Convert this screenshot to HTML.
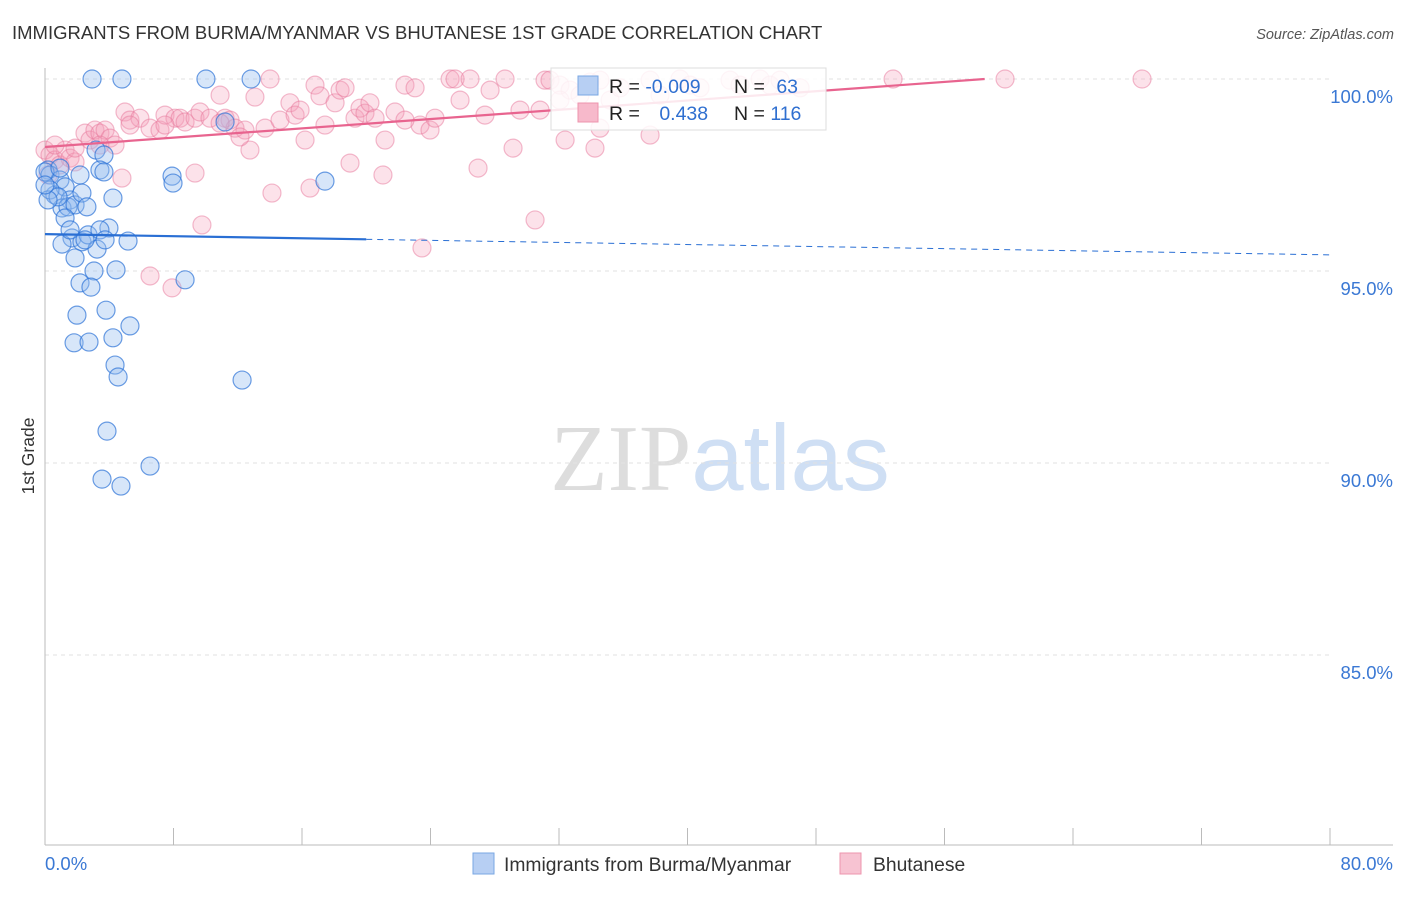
<!DOCTYPE html>
<html><head><meta charset="utf-8"><style>
body{margin:0;background:#fff;font-family:"Liberation Sans",sans-serif;}
svg text{font-family:"Liberation Sans",sans-serif;}
</style></head><body>
<svg id="chart" width="1406" height="892" viewBox="0 0 1406 892" xmlns="http://www.w3.org/2000/svg">
<text x="12" y="39" font-size="18.5" fill="#333">IMMIGRANTS FROM BURMA/MYANMAR VS BHUTANESE 1ST GRADE CORRELATION CHART</text>
<text x="1394" y="39" font-size="14.5" fill="#555" text-anchor="end" font-style="italic">Source: ZipAtlas.com</text>
<text x="720" y="490" font-size="94" text-anchor="middle"><tspan fill="#ddd" font-family="Liberation Serif">ZIP</tspan><tspan fill="#cfdff4">atlas</tspan></text>
<g id="grid"></g>
<g id="axes"></g>
<g id="pts"></g>
<g id="lines"></g>
<text transform="translate(34,456) rotate(-90)" font-size="17.5" fill="#333" text-anchor="middle">1st Grade</text>
<g>
<rect x="551" y="68" width="275" height="62" fill="#fff" fill-opacity="0.85" stroke="#ddd"/>
<rect x="578" y="76" width="20" height="19" fill="#b7cff3" stroke="#7aa7e3"/>
<rect x="578" y="103" width="20" height="19" fill="#f7b9cb" stroke="#ee94ae"/>
<text x="609" y="93" font-size="19.5" fill="#222">R = <tspan fill="#2f6fd0">-0.009</tspan></text>
<text x="734" y="93" font-size="19.5" fill="#222">N = <tspan fill="#2f6fd0" dx="6">63</tspan></text>
<text x="609" y="120" font-size="19.5" fill="#222">R = <tspan fill="#2f6fd0" dx="14">0.438</tspan></text>
<text x="734" y="120" font-size="19.5" fill="#222">N = <tspan fill="#2f6fd0">116</tspan></text>
</g>
<g>
<rect x="473" y="853" width="21" height="21" fill="#b7cff3" stroke="#7aa7e3"/>
<text x="504" y="871" font-size="19.3" fill="#333">Immigrants from Burma/Myanmar</text>
<rect x="840" y="853" width="21" height="21" fill="#f7c3d2" stroke="#ee94ae"/>
<text x="873" y="871" font-size="19.3" fill="#333">Bhutanese</text>
</g>
</svg>
<script>
const blueX=[2.93,4.79,10.02,12.83,11.21,0.19,0.31,0.62,0.93,1.25,1.56,1.06,1.43,1.87,2.30,2.18,3.18,3.67,3.42,3.67,7.91,7.97,4.23,2.61,1.25,1.68,1.06,2.30,2.68,3.24,3.98,5.17,3.05,4.42,1.87,8.72,2.18,2.86,1.99,3.80,5.29,1.81,2.74,4.23,4.36,4.55,12.27,3.86,6.54,3.55,4.73,17.43,0.31,0.81,0,0.19,2.49,0.93,3.42,1.56,0,3.74];
const blueY=[100,100,100,100,98.88,97.63,97.50,96.98,97.37,97.19,96.85,96.64,96.67,96.72,97.03,97.50,98.15,98.02,97.63,97.58,97.47,97.29,96.90,96.67,96.38,95.86,95.70,95.76,95.94,95.57,96.12,95.78,95.00,95.03,95.34,94.77,94.69,94.58,93.85,93.98,93.57,93.13,93.15,93.26,92.55,92.24,92.16,90.83,89.92,89.58,89.40,97.34,97.11,96.93,97.58,96.85,95.81,97.68,96.07,96.07,97.24,95.81];
const pinkX=[0,.31,.62,.93,.19,1.25,1.56,1.87,2.49,2.80,3.11,3.42,3.74,4.05,4.36,1.87,4.98,5.29,5.91,6.54,7.16,7.47,8.09,8.41,8.72,9.34,9.65,10.27,10.90,11.21,11.52,11.83,12.45,12.76,13.07,13.70,14.01,14.63,15.25,15.57,15.88,16.19,16.81,17.12,17.43,18.06,18.37,18.68,19.30,19.61,19.92,20.23,20.55,21.17,21.79,22.41,23.04,23.35,23.97,24.28,25.22,25.53,26.46,27.39,27.71,28.64,29.57,31.13,31.44,32.06,32.69,33.93,34.55,35.18,35.80,37.67,38.29,39.53,40.16,40.78,42.65,43.27,44.52,45.14,45.76,47.01,52.80,59.77,68.30,4.79,9.34,14.13,16.50,18.99,21.04,26.96,29.14,30.51,23.47,9.77,6.54,7.91,32.38,34.24,37.67,34.55,30.82,32.06,33.31,25.84,22.41,10.90,12.14,5.29,7.47,3.42,.62];
const pinkY=[98.15,98.02,97.89,97.76,97.50,98.15,97.94,97.84,98.59,98.41,98.67,98.59,98.67,98.46,98.28,98.20,99.14,98.93,98.98,98.72,98.67,99.06,98.98,98.98,98.88,98.98,99.14,98.98,99.58,98.98,98.93,98.72,98.67,98.15,99.53,98.72,100,98.93,99.38,99.06,99.19,98.41,99.84,99.56,98.80,99.38,99.71,99.77,98.98,99.24,99.11,99.38,98.98,98.41,99.14,99.84,99.77,98.80,98.67,98.98,100,100,100,99.06,99.71,100,99.19,99.97,99.97,99.84,99.71,99.92,99.97,99.45,99.77,99.97,99.58,100,99.84,99.77,99.97,99.84,100,99.84,99.97,99.77,100,100,100,97.42,97.55,97.03,97.16,97.81,97.50,97.68,98.20,96.33,95.60,96.20,94.87,94.56,98.41,98.20,98.54,98.72,99.19,99.45,99.58,99.45,98.93,98.85,98.49,98.80,98.80,98.28,98.28];
const yTicks=[100,95,90,85];
const yTickLabels=["100.0%","95.0%","90.0%","85.0%"];
const xTicks=[0,8,16,24,32,40,48,56,64,72,80];
const blueTrend=[95.96,95.42];
const pinkTrend=[98.23,100,58.5];
const NS="http://www.w3.org/2000/svg";
const sx=v=>45+v/80*1285;
const sy=v=>79+(100-v)/5*192;
function mk(tag,attrs,parent){const e=document.createElementNS(NS,tag);for(const k in attrs)e.setAttribute(k,attrs[k]);document.getElementById(parent).appendChild(e);return e;}
yTicks.forEach((t,i)=>{
 const l=mk('line',{x1:45,x2:1330,y1:sy(t),y2:sy(t),stroke:'#e2e2e2','stroke-dasharray':'4,4'},'grid');
 
 
 const tx=mk('text',{x:1393,y:sy(t)+24,'font-size':18.5,fill:'#3a78d4','text-anchor':'end'},'grid');
 tx.textContent=yTickLabels[i];
 
 
});
const ya=mk('line',{x1:45,x2:45,y1:68,y2:845,stroke:'#bbb'},'axes');


const xa=mk('line',{x1:45,x2:1393,y1:845,y2:845,stroke:'#bbb'},'axes');


xTicks.forEach(t=>{
 const l=mk('line',{x1:sx(t),x2:sx(t),y1:828,y2:845,stroke:'#bbb'},'axes');
 
 
});
const xl0=mk('text',{x:45,y:870,'font-size':18.5,fill:'#3a78d4'},'axes');xl0.textContent=xTicks[0].toFixed(1)+'%';


const xl1=mk('text',{x:1393,y:870,'font-size':18.5,fill:'#3a78d4','text-anchor':'end'},'axes');xl1.textContent=xTicks[xTicks.length-1].toFixed(1)+'%';


pinkX.forEach((x,i)=>{
 const c=mk('circle',{cx:sx(x),cy:sy(pinkY[i]),r:9,fill:'rgba(244,160,185,0.3)',stroke:'rgba(232,120,155,0.5)','stroke-width':1.2},'pts');
 
 
});
blueX.forEach((x,i)=>{
 const c=mk('circle',{cx:sx(x),cy:sy(blueY[i]),r:9,fill:'rgba(150,190,240,0.38)',stroke:'rgba(45,115,215,0.7)','stroke-width':1.2},'pts');
 
 
});
const bAt=x=>blueTrend[0]+(blueTrend[1]-blueTrend[0])*x/80;
const b1=mk('line',{x1:sx(0),y1:sy(bAt(0)),x2:sx(20),y2:sy(bAt(20)),stroke:'#2a6fd4','stroke-width':2.2},'lines');


const b2=mk('line',{x1:sx(20),y1:sy(bAt(20)),x2:sx(80),y2:sy(bAt(80)),stroke:'#2a6fd4','stroke-width':1,'stroke-dasharray':'6,5'},'lines');


const p1=mk('line',{x1:sx(0),y1:sy(pinkTrend[0]),x2:sx(pinkTrend[2]),y2:sy(pinkTrend[1]),stroke:'#e8648f','stroke-width':2.2},'lines');


</script>
</body></html>
